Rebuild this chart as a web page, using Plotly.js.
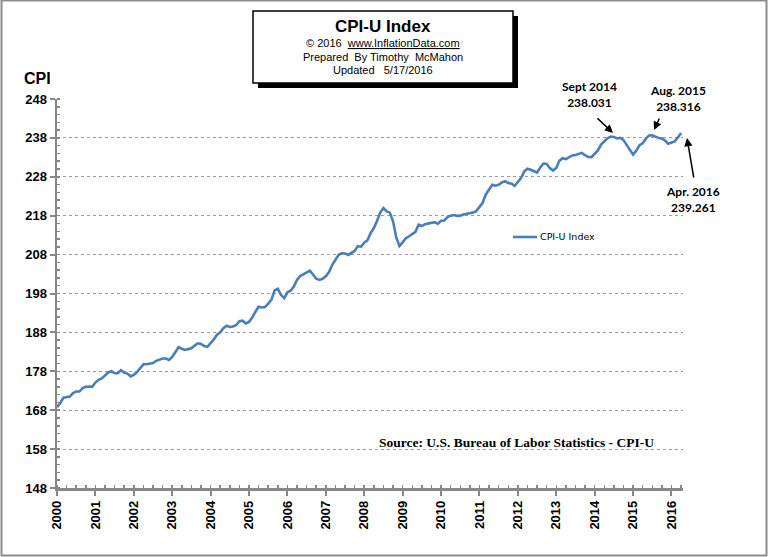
<!DOCTYPE html>
<html>
<head>
<meta charset="utf-8">
<script src="https://cdn.plot.ly/plotly-3.0.1.min.js"></script>
<style>
html,body{margin:0;padding:0;background:#fff;}
#chart{width:768px;height:557px;}
</style>
</head>
<body>
<div id="chart"></div>
<script>
// Monthly CPI-U values, Jan 2000 – Apr 2016
var cpi2000 = [168.8,169.8,171.2,171.3,171.5,172.4,172.8,172.8,173.7,174.0,174.1,174.0];
var cpi2001 = [175.1,175.8,176.2,176.9,177.7,178.0,177.5,177.5,178.3,177.7,177.4,176.7];
var cpi2002 = [177.1,177.8,178.8,179.8,179.8,179.9,180.1,180.7,181.0,181.3,181.3,180.9];
var cpi2003 = [181.7,183.1,184.2,183.8,183.5,183.7,183.9,184.6,185.2,185.0,184.5,184.3];
var cpi2004 = [185.2,186.2,187.4,188.0,189.1,189.7,189.4,189.5,189.9,190.9,191.0,190.3];
var cpi2005 = [190.7,191.8,193.3,194.6,194.4,194.5,195.4,196.4,198.8,199.2,197.6,196.8];
var cpi2006 = [198.3,198.7,199.8,201.5,202.5,202.9,203.5,203.9,202.9,201.8,201.5,201.8];
var cpi2007 = [202.416,203.499,205.352,206.686,207.949,208.352,208.299,207.917,208.490,208.936,210.177,210.036];
var cpi2008 = [211.080,211.693,213.528,214.823,216.632,218.815,219.964,219.086,218.783,216.573,212.425,210.228];
var cpi2009 = [211.143,212.193,212.709,213.240,213.856,215.693,215.351,215.834,215.969,216.177,216.330,215.949];
var cpi2010 = [216.687,216.741,217.631,218.009,218.178,217.965,218.011,218.312,218.439,218.711,218.803,219.179];
var cpi2011 = [220.223,221.309,223.467,224.906,225.964,225.722,225.922,226.545,226.889,226.421,226.230,225.672];
var cpi2012 = [226.665,227.663,229.392,230.085,229.815,229.478,229.104,230.379,231.407,231.317,230.221,229.601];
var cpi2013 = [230.280,232.166,232.773,232.531,232.945,233.504,233.596,233.877,234.149,233.546,233.069,233.049];
var cpi2014 = [233.916,234.781,236.293,237.072,237.900,238.343,238.250,237.852,238.031,237.433,236.151,234.812];
var cpi2015 = [233.707,234.722,236.119,236.599,237.805,238.638,238.654,238.316,237.945,237.838,237.336,236.525];
var cpi2016 = [236.916,237.111,238.132,239.261];

var startYear = 2000;
var yearTicks = [2000,2001,2002,2003,2004,2005,2006,2007,2008,2009,2010,2011,2012,2013,2014,2015,2016];
var yearLabels = ["2000","2001","2002","2003","2004","2005","2006","2007","2008","2009","2010","2011","2012","2013","2014","2015","2016"];
var cpiTicks = [148,158,168,178,188,198,208,218,228,238,248];

var seriesName = "CPI-U Index";
var chartTitle = "CPI-U Index";
var subLines = ["© 2016  <u>www.InflationData.com</u>", "Prepared  By Timothy  McMahon", "Updated   5/17/2016"];
var callouts = [
  {label:"Sept 2014<br>238.031"},
  {label:"Aug. 2015<br>238.316"},
  {label:"Apr. 2016<br>239.261"}
];
var sourceText = "Source: U.S. Bureau of Labor Statistics - CPI-U";

var cpiAll = [].concat(cpi2000,cpi2001,cpi2002,cpi2003,cpi2004,cpi2005,cpi2006,cpi2007,cpi2008,cpi2009,cpi2010,cpi2011,cpi2012,cpi2013,cpi2014,cpi2015,cpi2016);
var xs = cpiAll.map(function(v,i){ return startYear + i/12; });

// plot area in pixels
var L = 57, R = 683, T = 99, B = 488, W = 768, H = 557;
function px(x){ return (x - L)/(R - L); }
function py(y){ return (B - y)/(B - T); }

var trace = {
  x: xs, y: cpiAll, type: 'scatter', mode: 'lines', name: seriesName,
  line: {color: '#4A7EBB', width: 2.6}, showlegend: false, hoverinfo: 'x+y'
};

var bold = {family: 'Liberation Sans, Arial, sans-serif', size: 13, color: '#000', weight: 'bold'};
var cal = {family: 'Lato, Carlito, sans-serif', size: 12, color: '#000', weight: 'bold'};

var annotations = [
  {xref:'paper', yref:'paper', x:px(383), y:py(26), text:'<b>'+chartTitle+'</b>', showarrow:false,
   font:{family:'Liberation Sans, Arial, sans-serif', size:17, color:'#000'}, xanchor:'center', yanchor:'middle'},
  {xref:'paper', yref:'paper', x:px(383), y:py(43), text:subLines[0], showarrow:false,
   font:{family:'Liberation Sans, Arial, sans-serif', size:11, color:'#000'}, xanchor:'center', yanchor:'middle'},
  {xref:'paper', yref:'paper', x:px(383), y:py(57), text:subLines[1], showarrow:false,
   font:{family:'Liberation Sans, Arial, sans-serif', size:11, color:'#000'}, xanchor:'center', yanchor:'middle'},
  {xref:'paper', yref:'paper', x:px(383), y:py(70), text:subLines[2], showarrow:false,
   font:{family:'Liberation Sans, Arial, sans-serif', size:11, color:'#000'}, xanchor:'center', yanchor:'middle'},
  {xref:'paper', yref:'paper', x:px(37), y:py(78), text:'<b>CPI</b>', showarrow:false,
   font:{family:'Liberation Sans, Arial, sans-serif', size:16, color:'#000'}, xanchor:'center', yanchor:'middle'},
  {xref:'paper', yref:'paper', x:px(589), y:py(95), text:callouts[0].label, showarrow:false,
   font:cal, xanchor:'center', yanchor:'middle', align:'center'},
  {xref:'paper', yref:'paper', x:px(678), y:py(98), text:callouts[1].label, showarrow:false,
   font:cal, xanchor:'center', yanchor:'middle', align:'center'},
  {xref:'paper', yref:'paper', x:px(693), y:py(199), text:callouts[2].label, showarrow:false,
   font:cal, xanchor:'center', yanchor:'middle', align:'center'},
  // arrows
  {xref:'paper', yref:'paper', x:px(613), y:py(133), ax:px(596), ay:py(117), axref:'paper', ayref:'paper',
   text:'', showarrow:true, arrowhead:2, arrowsize:1.1, arrowwidth:1.5, arrowcolor:'#000'},
  {xref:'paper', yref:'paper', x:px(654), y:py(130), ax:px(660), ay:py(117), axref:'paper', ayref:'paper',
   text:'', showarrow:true, arrowhead:2, arrowsize:1.1, arrowwidth:1.5, arrowcolor:'#000'},
  {xref:'paper', yref:'paper', x:px(687), y:py(138), ax:px(694), ay:py(179), axref:'paper', ayref:'paper',
   text:'', showarrow:true, arrowhead:2, arrowsize:1.1, arrowwidth:1.5, arrowcolor:'#000'},
  // legend text
  {xref:'paper', yref:'paper', x:px(538), y:py(237), text:seriesName, showarrow:false,
   font:{family:'DejaVu Sans, Liberation Sans, sans-serif', size:9.5, color:'#000'}, xanchor:'left', yanchor:'middle'},
  // source
  {xref:'paper', yref:'paper', x:px(516), y:py(442), text:'<b>'+sourceText+'</b>', showarrow:false,
   font:{family:'Liberation Serif, Times New Roman, serif', size:13.5, color:'#000'}, xanchor:'center', yanchor:'middle'}
];

var shapes = [
  // outer image border
  {type:'rect', xref:'paper', yref:'paper', x0:px(1.5), x1:px(766.5), y0:py(0.5), y1:py(555.5),
   line:{color:'#8c8c8c', width:2}, fillcolor:'rgba(0,0,0,0)', layer:'below'},
  // title box shadow
  {type:'rect', xref:'paper', yref:'paper', x0:px(258), x1:px(518), y0:py(16), y1:py(88),
   line:{width:0}, fillcolor:'#000', layer:'above'},
  // title box
  {type:'rect', xref:'paper', yref:'paper', x0:px(253), x1:px(513), y0:py(11), y1:py(83),
   line:{color:'#000', width:1.5}, fillcolor:'#fff', layer:'above'},
  // legend line sample
  {type:'line', xref:'paper', yref:'paper', x0:px(513), x1:px(537), y0:py(237), y1:py(237),
   line:{color:'#4A7EBB', width:2.6}}
];

var layout = {
  width: W, height: H,
  margin: {l: L, r: W - R, t: T, b: H - B, pad: 0},
  paper_bgcolor: '#fff', plot_bgcolor: '#fff',
  showlegend: false,
  xaxis: {
    range: [2000, 2016.3], tickvals: yearTicks, ticktext: yearLabels,
    tickangle: -90, tickfont: bold, ticks: 'outside', ticklen: 5, tickwidth: 2, tickcolor: '#878787',
    showline: true, linecolor: '#878787', linewidth: 2.5, showgrid: false, zeroline: false,
    minor: {dtick: 0.25, tick0: 2000, ticks: 'inside', ticklen: 3, tickwidth: 1.5, tickcolor: '#878787', showgrid: false},
    fixedrange: true
  },
  yaxis: {
    range: [148, 248], tickvals: cpiTicks, tickfont: bold,
    ticks: 'outside', ticklen: 5, tickwidth: 2, tickcolor: '#878787',
    showline: true, linecolor: '#878787', linewidth: 2.5,
    showgrid: true, gridcolor: '#9a9a9a', gridwidth: 1, griddash: '3px,3px', zeroline: false,
    minor: {dtick: 2, tick0: 148, ticks: 'inside', ticklen: 3, tickwidth: 1.5, tickcolor: '#878787', showgrid: false},
    fixedrange: true
  },
  annotations: annotations,
  shapes: shapes
};

Plotly.newPlot('chart', [trace], layout, {displayModeBar: false, staticPlot: true});
</script>
</body>
</html>
